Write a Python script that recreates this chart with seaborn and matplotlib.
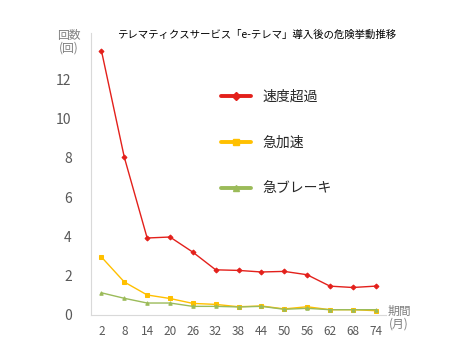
import pandas as pd
import matplotlib.pyplot as plt
import seaborn as sns
from matplotlib.lines import Line2D

# ===== DATA =====
months = [2, 8, 14, 20, 26, 32, 38, 44, 50, 56, 62, 68, 74]
speeding = [13.45, 8.03, 3.92, 3.97, 3.2, 2.3, 2.27, 2.19, 2.22, 2.05, 1.47, 1.4, 1.47]
accel = [2.95, 1.68, 1.02, 0.84, 0.59, 0.54, 0.42, 0.46, 0.31, 0.42, 0.27, 0.27, 0.22]
brake = [1.13, 0.85, 0.61, 0.61, 0.44, 0.44, 0.41, 0.44, 0.29, 0.34, 0.27, 0.27, 0.27]
series_names = ["速度超過", "急加速", "急ブレーキ"]
colors = ["#E3201B", "#FFC000", "#9BBB59"]
markers = ["D", "s", "^"]
y_ticks = [0, 2, 4, 6, 8, 10, 12]

df = pd.DataFrame({
    "month": [str(m) for m in months] * 3,
    "value": speeding + accel + brake,
    "series": [series_names[0]] * 13 + [series_names[1]] * 13 + [series_names[2]] * 13,
})

# ===== STYLE =====
sns.set_style("white")
plt.rcParams["font.family"] = ["Noto Sans CJK JP", "DejaVu Sans"]

fig = plt.figure(figsize=(4.7, 3.6), dpi=100)
ax = fig.add_axes([0.194, 0.125, 0.627, 0.783])

sns.pointplot(
    data=df, x="month", y="value", hue="series",
    hue_order=series_names, palette=dict(zip(series_names, colors)),
    markers=markers, linestyles="-", markersize=2.5, linewidth=1,
    errorbar=None, ax=ax,
)
ax.get_legend().remove()

ax.set_xlim(-0.45, len(months) - 0.55)
ax.set_ylim(0, 14.35)
ax.set_yticks(y_ticks)
ax.set_yticklabels([str(t) for t in y_ticks])
ax.set_xlabel("")
ax.set_ylabel("")

for s in ["top", "right"]:
    ax.spines[s].set_visible(False)
for s in ["left", "bottom"]:
    ax.spines[s].set_color("#d9d9d9")
    ax.spines[s].set_linewidth(0.8)

ax.tick_params(axis="y", length=0, pad=14, labelsize=10, labelcolor="#595959")
ax.tick_params(axis="x", length=0, pad=7, labelsize=8.5, labelcolor="#595959")

# axis unit labels
fig.text(69 / 470, 1 - 42 / 360, "回数\n(回)", ha="center", va="center",
         fontsize=8.5, color="#7f7f7f", linespacing=1.0)
fig.text(399 / 470, 1 - 318 / 360, "期間\n(月)", ha="center", va="center",
         fontsize=8.5, color="#7f7f7f", linespacing=1.0)

# title
fig.text(257 / 470, 1 - 35 / 360, "テレマティクスサービス「e-テレマ」導入後の危険挙動推移",
         ha="center", va="center", fontsize=7.5, color="black")

# legend
handles = [
    Line2D([0], [0], color=c, marker=m, lw=2.8, markersize=4.5)
    for c, m in zip(colors, markers)
]
fig.legend(handles, series_names, loc="upper left",
           bbox_to_anchor=(208 / 470, 1 - 77 / 360), frameon=False,
           fontsize=10, labelspacing=2.3, handlelength=2.2, handletextpad=0.8)

fig.savefig("out.png", dpi=100)
